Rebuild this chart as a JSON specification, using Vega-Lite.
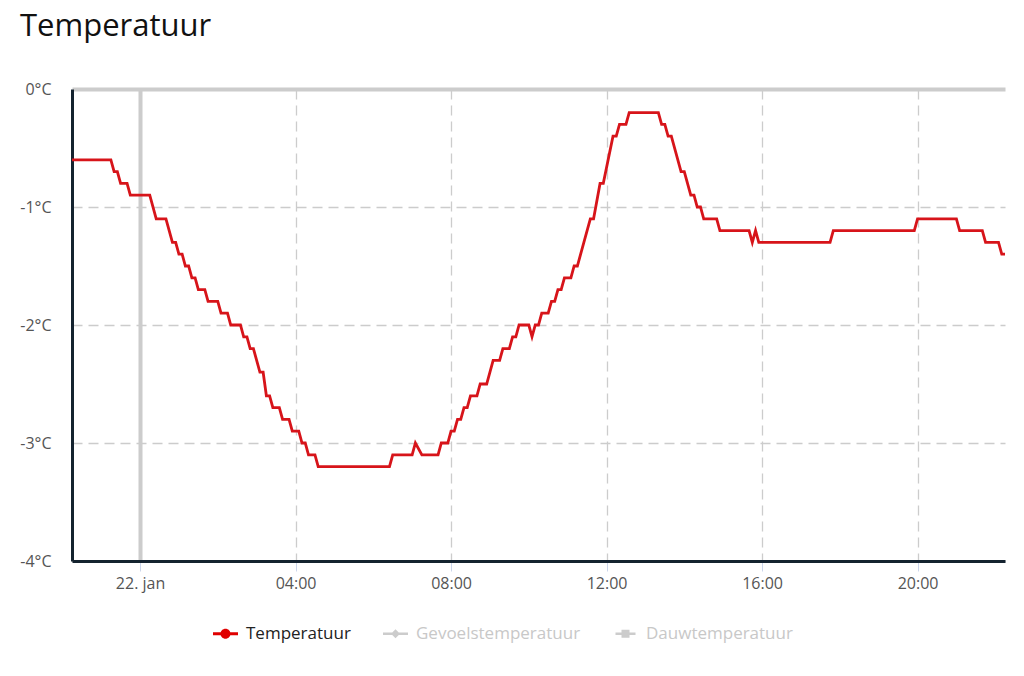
{
  "$schema": "https://vega.github.io/schema/vega-lite/v6.json",
  "autosize": {"type": "none"},
  "width": 933,
  "height": 472,
  "padding": {"left": 72, "top": 89, "right": 19, "bottom": 115},
  "background": "white",
  "title": {
    "text": "Temperatuur",
    "anchor": "start",
    "frame": "group",
    "dx": -52,
    "offset": 38,
    "font": "Open Sans",
    "fontSize": 31,
    "fontWeight": 500,
    "color": "#111111"
  },
  "data": {
    "values": [
      {"t": "2024-01-21T22:15", "temp": -0.6, "serie": "Temperatuur"},
      {"t": "2024-01-21T23:15", "temp": -0.6, "serie": "Temperatuur"},
      {"t": "2024-01-21T23:20", "temp": -0.7, "serie": "Temperatuur"},
      {"t": "2024-01-21T23:25", "temp": -0.7, "serie": "Temperatuur"},
      {"t": "2024-01-21T23:30", "temp": -0.8, "serie": "Temperatuur"},
      {"t": "2024-01-21T23:40", "temp": -0.8, "serie": "Temperatuur"},
      {"t": "2024-01-21T23:45", "temp": -0.9, "serie": "Temperatuur"},
      {"t": "2024-01-22T00:15", "temp": -0.9, "serie": "Temperatuur"},
      {"t": "2024-01-22T00:25", "temp": -1.1, "serie": "Temperatuur"},
      {"t": "2024-01-22T00:40", "temp": -1.1, "serie": "Temperatuur"},
      {"t": "2024-01-22T00:50", "temp": -1.3, "serie": "Temperatuur"},
      {"t": "2024-01-22T00:55", "temp": -1.3, "serie": "Temperatuur"},
      {"t": "2024-01-22T01:00", "temp": -1.4, "serie": "Temperatuur"},
      {"t": "2024-01-22T01:05", "temp": -1.4, "serie": "Temperatuur"},
      {"t": "2024-01-22T01:10", "temp": -1.5, "serie": "Temperatuur"},
      {"t": "2024-01-22T01:15", "temp": -1.5, "serie": "Temperatuur"},
      {"t": "2024-01-22T01:20", "temp": -1.6, "serie": "Temperatuur"},
      {"t": "2024-01-22T01:25", "temp": -1.6, "serie": "Temperatuur"},
      {"t": "2024-01-22T01:30", "temp": -1.7, "serie": "Temperatuur"},
      {"t": "2024-01-22T01:40", "temp": -1.7, "serie": "Temperatuur"},
      {"t": "2024-01-22T01:45", "temp": -1.8, "serie": "Temperatuur"},
      {"t": "2024-01-22T02:00", "temp": -1.8, "serie": "Temperatuur"},
      {"t": "2024-01-22T02:05", "temp": -1.9, "serie": "Temperatuur"},
      {"t": "2024-01-22T02:15", "temp": -1.9, "serie": "Temperatuur"},
      {"t": "2024-01-22T02:20", "temp": -2.0, "serie": "Temperatuur"},
      {"t": "2024-01-22T02:35", "temp": -2.0, "serie": "Temperatuur"},
      {"t": "2024-01-22T02:40", "temp": -2.1, "serie": "Temperatuur"},
      {"t": "2024-01-22T02:45", "temp": -2.1, "serie": "Temperatuur"},
      {"t": "2024-01-22T02:50", "temp": -2.2, "serie": "Temperatuur"},
      {"t": "2024-01-22T02:55", "temp": -2.2, "serie": "Temperatuur"},
      {"t": "2024-01-22T03:05", "temp": -2.4, "serie": "Temperatuur"},
      {"t": "2024-01-22T03:10", "temp": -2.4, "serie": "Temperatuur"},
      {"t": "2024-01-22T03:15", "temp": -2.6, "serie": "Temperatuur"},
      {"t": "2024-01-22T03:20", "temp": -2.6, "serie": "Temperatuur"},
      {"t": "2024-01-22T03:25", "temp": -2.7, "serie": "Temperatuur"},
      {"t": "2024-01-22T03:35", "temp": -2.7, "serie": "Temperatuur"},
      {"t": "2024-01-22T03:40", "temp": -2.8, "serie": "Temperatuur"},
      {"t": "2024-01-22T03:50", "temp": -2.8, "serie": "Temperatuur"},
      {"t": "2024-01-22T03:55", "temp": -2.9, "serie": "Temperatuur"},
      {"t": "2024-01-22T04:05", "temp": -2.9, "serie": "Temperatuur"},
      {"t": "2024-01-22T04:10", "temp": -3.0, "serie": "Temperatuur"},
      {"t": "2024-01-22T04:15", "temp": -3.0, "serie": "Temperatuur"},
      {"t": "2024-01-22T04:20", "temp": -3.1, "serie": "Temperatuur"},
      {"t": "2024-01-22T04:30", "temp": -3.1, "serie": "Temperatuur"},
      {"t": "2024-01-22T04:35", "temp": -3.2, "serie": "Temperatuur"},
      {"t": "2024-01-22T06:25", "temp": -3.2, "serie": "Temperatuur"},
      {"t": "2024-01-22T06:30", "temp": -3.1, "serie": "Temperatuur"},
      {"t": "2024-01-22T07:00", "temp": -3.1, "serie": "Temperatuur"},
      {"t": "2024-01-22T07:05", "temp": -3.0, "serie": "Temperatuur"},
      {"t": "2024-01-22T07:15", "temp": -3.1, "serie": "Temperatuur"},
      {"t": "2024-01-22T07:40", "temp": -3.1, "serie": "Temperatuur"},
      {"t": "2024-01-22T07:45", "temp": -3.0, "serie": "Temperatuur"},
      {"t": "2024-01-22T07:55", "temp": -3.0, "serie": "Temperatuur"},
      {"t": "2024-01-22T08:00", "temp": -2.9, "serie": "Temperatuur"},
      {"t": "2024-01-22T08:05", "temp": -2.9, "serie": "Temperatuur"},
      {"t": "2024-01-22T08:10", "temp": -2.8, "serie": "Temperatuur"},
      {"t": "2024-01-22T08:15", "temp": -2.8, "serie": "Temperatuur"},
      {"t": "2024-01-22T08:20", "temp": -2.7, "serie": "Temperatuur"},
      {"t": "2024-01-22T08:25", "temp": -2.7, "serie": "Temperatuur"},
      {"t": "2024-01-22T08:30", "temp": -2.6, "serie": "Temperatuur"},
      {"t": "2024-01-22T08:40", "temp": -2.6, "serie": "Temperatuur"},
      {"t": "2024-01-22T08:45", "temp": -2.5, "serie": "Temperatuur"},
      {"t": "2024-01-22T08:55", "temp": -2.5, "serie": "Temperatuur"},
      {"t": "2024-01-22T09:05", "temp": -2.3, "serie": "Temperatuur"},
      {"t": "2024-01-22T09:15", "temp": -2.3, "serie": "Temperatuur"},
      {"t": "2024-01-22T09:20", "temp": -2.2, "serie": "Temperatuur"},
      {"t": "2024-01-22T09:30", "temp": -2.2, "serie": "Temperatuur"},
      {"t": "2024-01-22T09:35", "temp": -2.1, "serie": "Temperatuur"},
      {"t": "2024-01-22T09:40", "temp": -2.1, "serie": "Temperatuur"},
      {"t": "2024-01-22T09:45", "temp": -2.0, "serie": "Temperatuur"},
      {"t": "2024-01-22T10:00", "temp": -2.0, "serie": "Temperatuur"},
      {"t": "2024-01-22T10:05", "temp": -2.1, "serie": "Temperatuur"},
      {"t": "2024-01-22T10:10", "temp": -2.0, "serie": "Temperatuur"},
      {"t": "2024-01-22T10:15", "temp": -2.0, "serie": "Temperatuur"},
      {"t": "2024-01-22T10:20", "temp": -1.9, "serie": "Temperatuur"},
      {"t": "2024-01-22T10:30", "temp": -1.9, "serie": "Temperatuur"},
      {"t": "2024-01-22T10:35", "temp": -1.8, "serie": "Temperatuur"},
      {"t": "2024-01-22T10:40", "temp": -1.8, "serie": "Temperatuur"},
      {"t": "2024-01-22T10:45", "temp": -1.7, "serie": "Temperatuur"},
      {"t": "2024-01-22T10:50", "temp": -1.7, "serie": "Temperatuur"},
      {"t": "2024-01-22T10:55", "temp": -1.6, "serie": "Temperatuur"},
      {"t": "2024-01-22T11:05", "temp": -1.6, "serie": "Temperatuur"},
      {"t": "2024-01-22T11:10", "temp": -1.5, "serie": "Temperatuur"},
      {"t": "2024-01-22T11:15", "temp": -1.5, "serie": "Temperatuur"},
      {"t": "2024-01-22T11:35", "temp": -1.1, "serie": "Temperatuur"},
      {"t": "2024-01-22T11:40", "temp": -1.1, "serie": "Temperatuur"},
      {"t": "2024-01-22T11:50", "temp": -0.8, "serie": "Temperatuur"},
      {"t": "2024-01-22T11:55", "temp": -0.8, "serie": "Temperatuur"},
      {"t": "2024-01-22T12:10", "temp": -0.4, "serie": "Temperatuur"},
      {"t": "2024-01-22T12:15", "temp": -0.4, "serie": "Temperatuur"},
      {"t": "2024-01-22T12:20", "temp": -0.3, "serie": "Temperatuur"},
      {"t": "2024-01-22T12:30", "temp": -0.3, "serie": "Temperatuur"},
      {"t": "2024-01-22T12:35", "temp": -0.2, "serie": "Temperatuur"},
      {"t": "2024-01-22T13:20", "temp": -0.2, "serie": "Temperatuur"},
      {"t": "2024-01-22T13:25", "temp": -0.3, "serie": "Temperatuur"},
      {"t": "2024-01-22T13:30", "temp": -0.3, "serie": "Temperatuur"},
      {"t": "2024-01-22T13:35", "temp": -0.4, "serie": "Temperatuur"},
      {"t": "2024-01-22T13:40", "temp": -0.4, "serie": "Temperatuur"},
      {"t": "2024-01-22T13:55", "temp": -0.7, "serie": "Temperatuur"},
      {"t": "2024-01-22T14:00", "temp": -0.7, "serie": "Temperatuur"},
      {"t": "2024-01-22T14:10", "temp": -0.9, "serie": "Temperatuur"},
      {"t": "2024-01-22T14:15", "temp": -0.9, "serie": "Temperatuur"},
      {"t": "2024-01-22T14:20", "temp": -1.0, "serie": "Temperatuur"},
      {"t": "2024-01-22T14:25", "temp": -1.0, "serie": "Temperatuur"},
      {"t": "2024-01-22T14:30", "temp": -1.1, "serie": "Temperatuur"},
      {"t": "2024-01-22T14:50", "temp": -1.1, "serie": "Temperatuur"},
      {"t": "2024-01-22T14:55", "temp": -1.2, "serie": "Temperatuur"},
      {"t": "2024-01-22T15:40", "temp": -1.2, "serie": "Temperatuur"},
      {"t": "2024-01-22T15:45", "temp": -1.3, "serie": "Temperatuur"},
      {"t": "2024-01-22T15:50", "temp": -1.2, "serie": "Temperatuur"},
      {"t": "2024-01-22T15:55", "temp": -1.3, "serie": "Temperatuur"},
      {"t": "2024-01-22T17:45", "temp": -1.3, "serie": "Temperatuur"},
      {"t": "2024-01-22T17:50", "temp": -1.2, "serie": "Temperatuur"},
      {"t": "2024-01-22T19:55", "temp": -1.2, "serie": "Temperatuur"},
      {"t": "2024-01-22T20:00", "temp": -1.1, "serie": "Temperatuur"},
      {"t": "2024-01-22T21:00", "temp": -1.1, "serie": "Temperatuur"},
      {"t": "2024-01-22T21:05", "temp": -1.2, "serie": "Temperatuur"},
      {"t": "2024-01-22T21:40", "temp": -1.2, "serie": "Temperatuur"},
      {"t": "2024-01-22T21:45", "temp": -1.3, "serie": "Temperatuur"},
      {"t": "2024-01-22T22:05", "temp": -1.3, "serie": "Temperatuur"},
      {"t": "2024-01-22T22:10", "temp": -1.4, "serie": "Temperatuur"},
      {"t": "2024-01-22T22:15", "temp": -1.4, "serie": "Temperatuur"}
    ]
  },
  "mark": {"type": "line", "strokeWidth": 2.8, "strokeJoin": "miter", "clip": true},
  "encoding": {
    "x": {
      "field": "t",
      "type": "temporal",
      "title": null,
      "scale": {
        "domain": [
          {"year": 2024, "month": 1, "date": 21, "hours": 22, "minutes": 15},
          {"year": 2024, "month": 1, "date": 22, "hours": 22, "minutes": 15}
        ],
        "nice": false
      },
      "axis": {
        "values": [
          {"year": 2024, "month": 1, "date": 22, "hours": 0},
          {"year": 2024, "month": 1, "date": 22, "hours": 4},
          {"year": 2024, "month": 1, "date": 22, "hours": 8},
          {"year": 2024, "month": 1, "date": 22, "hours": 12},
          {"year": 2024, "month": 1, "date": 22, "hours": 16},
          {"year": 2024, "month": 1, "date": 22, "hours": 20}
        ],
        "labelExpr": "hours(datum.value) === 0 ? date(datum.value) + '. jan' : timeFormat(datum.value, '%H:%M')",
        "grid": true,
        "gridColor": "#cccccc",
        "gridDash": {"condition": {"test": "hours(datum.value) === 0", "value": []}, "value": [10, 6]},
        "gridWidth": {"condition": {"test": "hours(datum.value) === 0", "value": 4}, "value": 1.3},
        "domain": true,
        "domainColor": "#14232f",
        "domainWidth": 3,
        "ticks": true,
        "tickColor": "#ccd6eb",
        "tickSize": 10,
        "tickWidth": 1,
        "labelPadding": 4,
        "labelFont": "Open Sans",
        "labelFontSize": 16,
        "labelColor": "#555555",
        "labelFlush": false
      }
    },
    "y": {
      "field": "temp",
      "type": "quantitative",
      "title": null,
      "scale": {"domain": [-4, 0], "nice": false, "zero": false},
      "axis": {
        "values": [-4, -3, -2, -1, 0],
        "labelExpr": "datum.value + '°C'",
        "grid": true,
        "gridColor": "#cccccc",
        "gridDash": {"condition": {"test": "datum.value === 0", "value": []}, "value": [10, 6]},
        "gridWidth": {"condition": {"test": "datum.value === 0", "value": 4}, "value": 1.3},
        "domain": true,
        "domainColor": "#14232f",
        "domainWidth": 3,
        "ticks": false,
        "labelPadding": 21,
        "labelFont": "Open Sans",
        "labelFontSize": 16,
        "labelColor": "#555555",
        "labelBaseline": "middle",
        "labelFlush": false
      }
    },
    "color": {
      "field": "serie",
      "type": "nominal",
      "scale": {
        "domain": ["Temperatuur", "Gevoelstemperatuur", "Dauwtemperatuur"],
        "range": ["#d7141a", "#cccccc", "#cccccc"]
      },
      "legend": {
        "title": null,
        "orient": "none",
        "direction": "horizontal",
        "legendX": 141,
        "legendY": 532,
        "labelFont": "Open Sans",
        "labelFontSize": 17,
        "labelColor": "#222222",
        "labelLimit": 400,
        "labelOffset": 8,
        "columnPadding": 32,
        "symbolSize": 625,
        "encoding": {
          "symbols": {
            "shape": {"value": {"expr": "datum.value === 'Temperatuur' ? 'M-1,-0.12H1V0.12H-1Z M0.4,0A0.4,0.4 0 1,1 -0.4,0A0.4,0.4 0 1,1 0.4,0Z' : datum.value === 'Gevoelstemperatuur' ? 'M-1,-0.1H1V0.1H-1Z M0,-0.36L0.36,0L0,0.36L-0.36,0Z' : 'M-0.8,-0.1H0.8V0.1H-0.8Z M-0.32,-0.32H0.32V0.32H-0.32Z'"}},
            "fill": {"value": {"expr": "datum.value === 'Temperatuur' ? '#e00000' : '#cccccc'"}},
            "stroke": {"value": "transparent"},
            "strokeWidth": {"value": 0},
            "opacity": {"value": 1}
          },
          "labels": {
            "fill": {"value": {"expr": "datum.value === 'Temperatuur' ? '#222222' : '#c8c8c8'"}}
          }
        }
      }
    }
  },
  "config": {
    "view": {"stroke": null},
    "font": "Open Sans"
  }
}
